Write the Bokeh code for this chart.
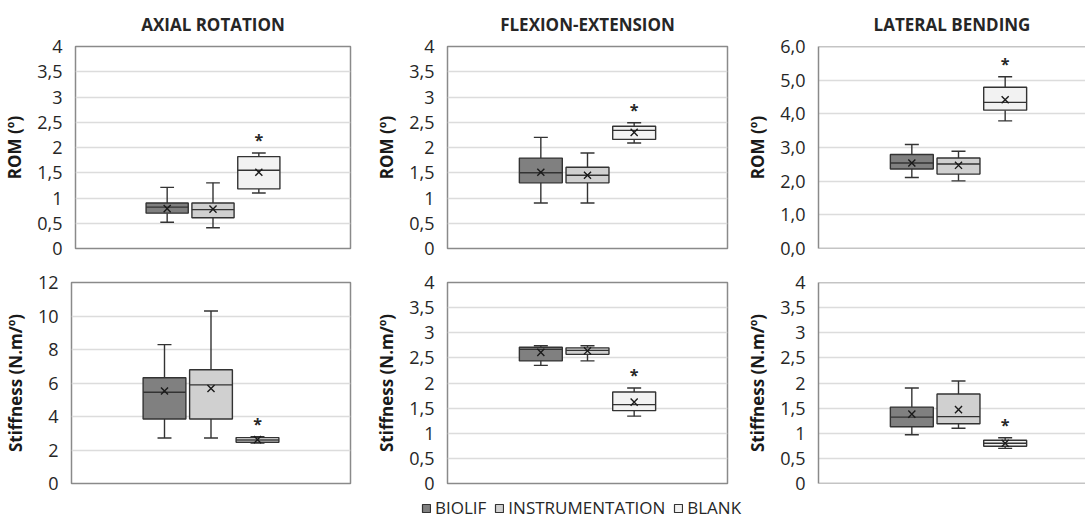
from bokeh.plotting import figure
from bokeh.layouts import column, row
from bokeh.models import FixedTicker, Range1d, Legend, LegendItem, Span, ColumnDataSource
from bokeh.embed import file_html
from bokeh.resources import INLINE
from bokeh.core.properties import value

groups = ["BIOLIF", "INSTRUMENTATION", "BLANK"]
fills = ["#808080", "#d0d0d0", "#f2f2f2"]

# ROM - axial rotation (min, q1, median, q3, max, mean) per group
ar_rom_min = [0.52, 0.41, 1.10]
ar_rom_q1 = [0.70, 0.61, 1.18]
ar_rom_med = [0.82, 0.77, 1.55]
ar_rom_q3 = [0.90, 0.90, 1.82]
ar_rom_max = [1.21, 1.30, 1.89]
ar_rom_mean = [0.79, 0.78, 1.51]

# ROM - flexion-extension
fe_rom_min = [0.90, 0.90, 2.09]
fe_rom_q1 = [1.30, 1.30, 2.16]
fe_rom_med = [1.50, 1.45, 2.34]
fe_rom_q3 = [1.79, 1.61, 2.42]
fe_rom_max = [2.20, 1.89, 2.49]
fe_rom_mean = [1.51, 1.45, 2.30]

# ROM - lateral bending
lb_rom_min = [2.11, 2.01, 3.79]
lb_rom_q1 = [2.36, 2.21, 4.11]
lb_rom_med = [2.54, 2.51, 4.34]
lb_rom_q3 = [2.79, 2.69, 4.79]
lb_rom_max = [3.09, 2.89, 5.10]
lb_rom_mean = [2.54, 2.47, 4.42]

# Stiffness - axial rotation
ar_st_min = [2.72, 2.72, 2.42]
ar_st_q1 = [3.85, 3.85, 2.46]
ar_st_med = [5.45, 5.89, 2.60]
ar_st_q3 = [6.31, 6.79, 2.74]
ar_st_max = [8.29, 10.30, 2.80]
ar_st_mean = [5.52, 5.67, 2.62]

# Stiffness - flexion-extension
fe_st_min = [2.35, 2.44, 1.34]
fe_st_q1 = [2.44, 2.57, 1.45]
fe_st_med = [2.67, 2.65, 1.57]
fe_st_q3 = [2.71, 2.70, 1.82]
fe_st_max = [2.74, 2.74, 1.90]
fe_st_mean = [2.61, 2.64, 1.62]

# Stiffness - lateral bending
lb_st_min = [0.97, 1.10, 0.70]
lb_st_q1 = [1.13, 1.19, 0.74]
lb_st_med = [1.32, 1.33, 0.80]
lb_st_q3 = [1.52, 1.78, 0.86]
lb_st_max = [1.90, 2.04, 0.91]
lb_st_mean = [1.38, 1.47, 0.80]

# significance markers (group index)
star_group = 2

# tick values and labels
ticks_4 = [0, 0.5, 1, 1.5, 2, 2.5, 3, 3.5, 4]
labels_4 = ["0", "0,5", "1", "1,5", "2", "2,5", "3", "3,5", "4"]
ticks_6 = [0, 1, 2, 3, 4, 5, 6]
labels_6 = ["0,0", "1,0", "2,0", "3,0", "4,0", "5,0", "6,0"]
ticks_12 = [0, 2, 4, 6, 8, 10, 12]
labels_12 = ["0", "2", "4", "6", "8", "10", "12"]

titles = ["AXIAL ROTATION", "FLEXION-EXTENSION", "LATERAL BENDING"]
rom_label = "ROM (º)"
stiff_label = "Stiffness (N.m/º)"

FONT = "Open Sans"
BORDER = "#8a8a8a"
EDGE = "#333333"


def make_panel(stats, ticks, labels, ylabel, title, width, left, right,
               height, top, bottom, clipped):
    mn, q1, med, q3, mx, mean = stats
    frame_w = width - left - right
    xmax = 6.0 * frame_w / 280.0
    kw = {}
    if title:
        kw["title"] = title
    p = figure(width=width, height=height, output_backend="svg",
               toolbar_location=None, x_range=Range1d(0, xmax),
               y_range=Range1d(0, ticks[-1]),
               min_border_left=left, min_border_right=right,
               min_border_top=top, min_border_bottom=bottom, **kw)
    if title:
        p.title.text_font = FONT
        p.title.text_font_size = "17px"
        p.title.text_font_style = "bold"
        p.title.align = "center"
        p.title.text_color = "#262626"
        p.title.standoff = 21
    p.xaxis.visible = False
    p.xgrid.visible = False
    p.ygrid.grid_line_color = "#dcdcdc"
    p.ygrid.grid_line_width = 1.5
    p.yaxis.ticker = FixedTicker(ticks=ticks)
    p.yaxis.major_label_overrides = {t: l for t, l in zip(ticks, labels)}
    p.yaxis.major_tick_line_color = None
    p.yaxis.minor_tick_line_color = None
    p.yaxis.major_label_text_font = FONT
    p.yaxis.major_label_text_font_size = "18px"
    p.yaxis.major_label_text_color = "#262626"
    p.yaxis.major_label_standoff = 7
    p.yaxis.axis_label = ylabel
    p.yaxis.axis_label_text_font = FONT
    p.yaxis.axis_label_text_font_size = "17px"
    p.yaxis.axis_label_text_font_style = "bold"
    p.yaxis.axis_label_text_color = "#1a1a1a"
    p.yaxis.axis_label_standoff = 8
    p.background_fill_color = "white"
    p.border_fill_color = "white"
    if clipped:
        p.outline_line_color = None
        p.yaxis.axis_line_color = BORDER
        p.yaxis.axis_line_width = 1.5
        p.add_layout(Span(location=ticks[-1], dimension="width",
                          line_color=BORDER, line_width=1.5))
        p.add_layout(Span(location=0, dimension="width",
                          line_color=BORDER, line_width=1.5))
    else:
        p.outline_line_color = BORDER
        p.outline_line_width = 1.5
        p.yaxis.axis_line_color = None

    xs = [2 + i for i in range(len(groups))]
    bw = 0.92
    cw = 0.15
    src = ColumnDataSource(dict(
        x=xs, mn=mn, q1=q1, med=med, q3=q3, mx=mx, mean=mean, fill=fills,
        xl=[x - bw / 2 for x in xs], xr=[x + bw / 2 for x in xs],
        cl=[x - cw for x in xs], cr=[x + cw for x in xs]))
    # whiskers
    p.segment(x0="x", y0="q3", x1="x", y1="mx", source=src,
              line_color=EDGE, line_width=1.4)
    p.segment(x0="x", y0="q1", x1="x", y1="mn", source=src,
              line_color=EDGE, line_width=1.4)
    p.segment(x0="cl", y0="mx", x1="cr", y1="mx", source=src,
              line_color=EDGE, line_width=1.4)
    p.segment(x0="cl", y0="mn", x1="cr", y1="mn", source=src,
              line_color=EDGE, line_width=1.4)
    # boxes
    p.vbar(x="x", width=bw, bottom="q1", top="q3", source=src,
           fill_color="fill", line_color=EDGE, line_width=1.4)
    # median
    p.segment(x0="xl", y0="med", x1="xr", y1="med", source=src,
              line_color=EDGE, line_width=1.4)
    # mean
    p.scatter(x="x", y="mean", source=src, marker="x", size=10,
              line_color="#1a1a1a", line_width=1.4)
    # asterisk
    p.text(x=[xs[star_group]], y=[mx[star_group]], text=["*"],
           text_font=value(FONT), text_font_size="16px",
           text_font_style="bold", text_align="center",
           text_baseline="middle", y_offset=-13, text_color="#262626")
    return p


W = [370, 370, 345]
L = [70, 77, 78]
R = [20, 13, 0]

rom_stats = [
    (ar_rom_min, ar_rom_q1, ar_rom_med, ar_rom_q3, ar_rom_max, ar_rom_mean),
    (fe_rom_min, fe_rom_q1, fe_rom_med, fe_rom_q3, fe_rom_max, fe_rom_mean),
    (lb_rom_min, lb_rom_q1, lb_rom_med, lb_rom_q3, lb_rom_max, lb_rom_mean),
]
st_stats = [
    (ar_st_min, ar_st_q1, ar_st_med, ar_st_q3, ar_st_max, ar_st_mean),
    (fe_st_min, fe_st_q1, fe_st_med, fe_st_q3, fe_st_max, fe_st_mean),
    (lb_st_min, lb_st_q1, lb_st_med, lb_st_q3, lb_st_max, lb_st_mean),
]
rom_ticks = [(ticks_4, labels_4), (ticks_4, labels_4), (ticks_6, labels_6)]
st_ticks = [(ticks_12, labels_12), (ticks_4, labels_4), (ticks_4, labels_4)]

top_row = []
bot_row = []
for i in range(3):
    top_row.append(make_panel(rom_stats[i], rom_ticks[i][0], rom_ticks[i][1],
                              rom_label, titles[i], W[i], L[i], R[i],
                              262, 45, 14, i == 2))
    bot_row.append(make_panel(st_stats[i], st_ticks[i][0], st_ticks[i][1],
                              stiff_label, None, W[i], L[i], R[i],
                              235, 20, 14, i == 2))

# legend strip (swatch glyphs sit outside the visible range; only legend shows)
lg = figure(width=1085, height=22, output_backend="svg", toolbar_location=None,
            x_range=Range1d(0, 1), y_range=Range1d(0, 1), min_border=0)
lg.axis.visible = False
lg.grid.visible = False
lg.outline_line_color = None
items = []
for g, c in zip(groups, fills):
    r = lg.quad(left=[5], right=[6], top=[6], bottom=[5], fill_color=c,
                line_color=EDGE, line_width=1.2)
    items.append(LegendItem(label=g, renderers=[r]))
legend = Legend(items=items, orientation="horizontal", location=(421, 0),
                label_text_font=FONT, label_text_font_size="17px",
                label_text_color="#262626", border_line_color=None,
                background_fill_alpha=0, glyph_width=10, glyph_height=10,
                label_standoff=4, spacing=8, padding=0, margin=0,
                label_height=18)
lg.add_layout(legend, "center")

layout = column(row(*top_row), row(*bot_row), lg)
open("out.html", "w").write(file_html(layout, INLINE))
